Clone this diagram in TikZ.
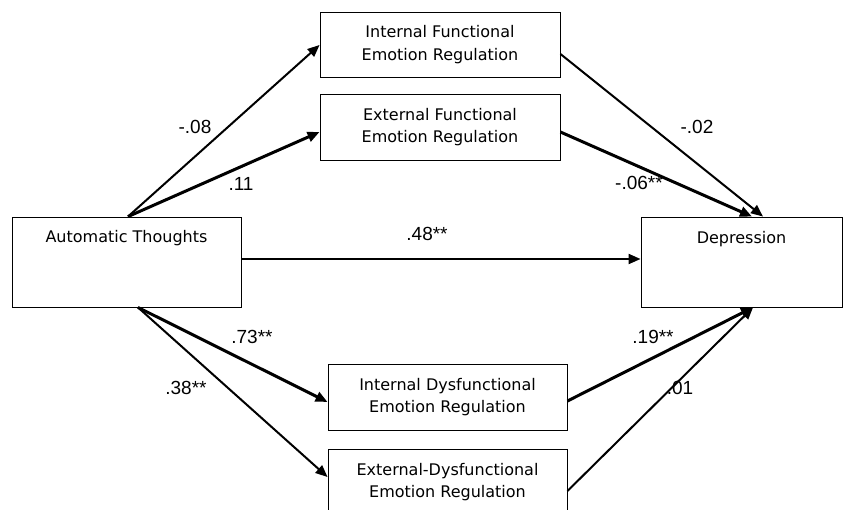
\documentclass[tikz,border=0pt]{standalone}
\usepackage{fontspec}
\setmainfont{DejaVu Sans}
\newfontfamily\numfont{Liberation Sans}
\usetikzlibrary{arrows.meta}
\begin{document}
\begin{tikzpicture}[x=1pt,y=-1pt,
  box/.style={draw, line width=0.9pt, rectangle, inner sep=0pt, align=center,
    font=\fontsize{16}{22.5}\selectfont},
  boxtext/.style={font=\fontsize{16}{18}\selectfont, inner sep=0pt},
  path/.style={line width=2pt, -{Triangle[length=12pt,width=10pt]}},
  heavy/.style={path, line width=3pt},
  coef/.style={font=\numfont\fontsize{19}{20}\selectfont, inner sep=0pt}]
\useasboundingbox (0,0) rectangle (859,510);
\fill[white] (0,0) rectangle (859,510);

% construct boxes
\node[box, minimum width=240pt, minimum height=65pt] (ifer) at (440,44.5)
  {Internal Functional\\Emotion Regulation};
\node[box, minimum width=240pt, minimum height=66pt] (efer) at (440,127)
  {External Functional\\Emotion Regulation};
\node[box, minimum width=229pt, minimum height=90pt] (auto) at (126.5,262) {};
\node[boxtext] (autotxt) at (126.5,238) {Automatic Thoughts};
\node[box, minimum width=201pt, minimum height=90pt] (dep) at (741.5,262) {};
\node[boxtext] (deptxt) at (741.5,239) {Depression};
\node[box, minimum width=239pt, minimum height=66pt] (idfer) at (447.5,397)
  {Internal Dysfunctional\\Emotion Regulation};
\node[box, minimum width=239pt, minimum height=66pt] (edfer) at (447.5,482)
  {External-Dysfunctional\\Emotion Regulation};

% paths from automatic thoughts
\draw[path] ([xshift=1.5pt]auto.north) -- ([yshift=-0.5pt]ifer.west);
\draw[heavy] ([xshift=1.5pt]auto.north) -- ([yshift=-5pt]efer.west);
\draw[path] (auto.east |- 0,259) coordinate (h0) -- (dep.west |- h0);
\draw[heavy] ([xshift=11.5pt]auto.south) -- ([yshift=-5pt]idfer.west);
\draw[path] ([xshift=11.5pt]auto.south) -- ([yshift=5pt]edfer.west);

% paths to depression
\draw[path] ([yshift=-9.5pt]ifer.east) -- ([xshift=21.5pt]dep.north);
\draw[heavy] ([yshift=-5pt]efer.east) -- ([xshift=10.5pt]dep.north);
\draw[heavy] ([yshift=-4pt]idfer.east) -- ([xshift=11.5pt]dep.south);
\draw[path] ([yshift=-9pt]edfer.east) -- ([xshift=11.5pt]dep.south);

% coefficients
\node[coef] (c1) at (195,127) {-.08};
\node[coef] (c2) at (241,184) {.11};
\node[coef] (c3) at (427,234) {.48**};
\node[coef] (c4) at (697,127) {-.02};
\node[coef] (c5) at (639,183) {-.06**};
\node[coef] (c6) at (252,337) {.73**};
\node[coef] (c7) at (186,388) {.38**};
\node[coef] (c8) at (653,337) {.19**};
\node[coef] (c9) at (680,388) {.01};
\end{tikzpicture}
\end{document}
